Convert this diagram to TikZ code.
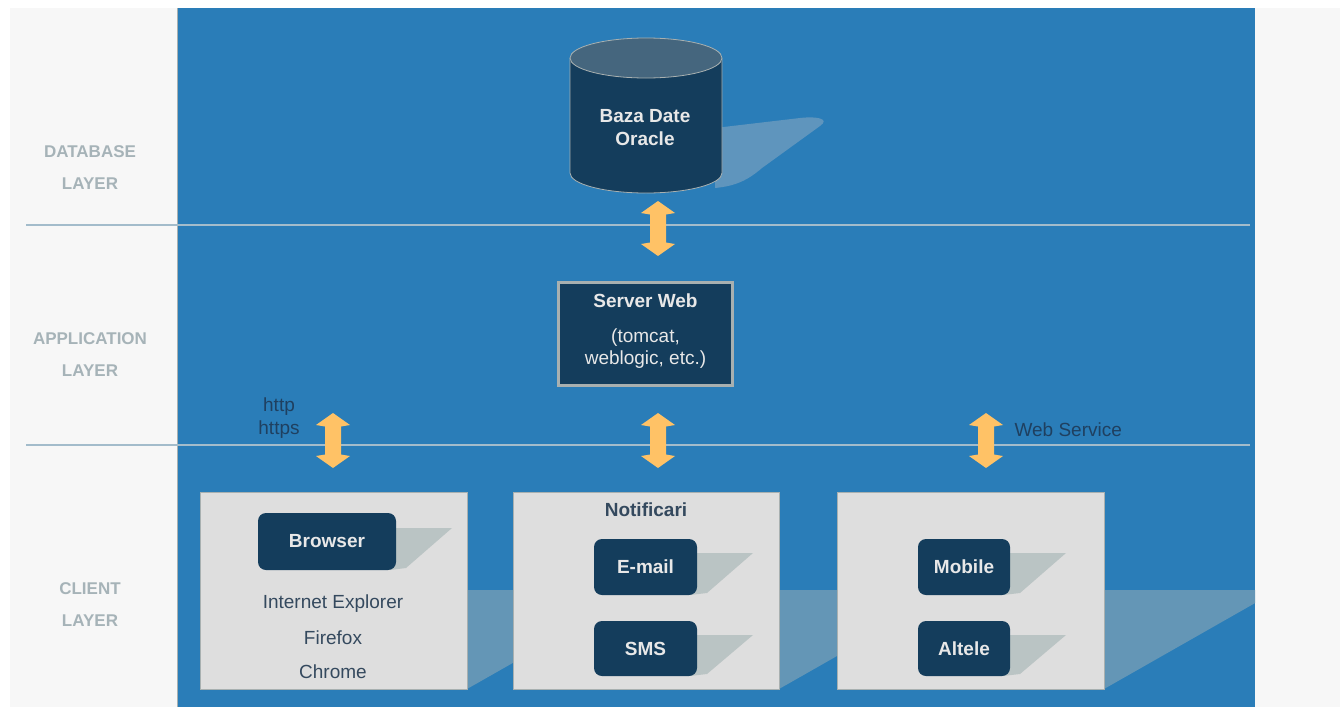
\documentclass[tikz,border=0pt]{standalone}
\usepackage{fontspec}
\setmainfont{Liberation Sans}
\definecolor{bgpanel}{HTML}{F7F7F7}
\definecolor{bluebg}{HTML}{2A7DB8}
\definecolor{sepline}{HTML}{A3BCCB}
\definecolor{navy}{HTML}{143D5C}
\definecolor{cyltop}{HTML}{45667E}
\definecolor{nodetxt}{HTML}{E8E8E8}
\definecolor{arrowcol}{HTML}{FFC266}
\definecolor{bigshadow}{HTML}{6496B6}
\definecolor{smallshadow}{HTML}{BAC4C4}
\definecolor{cylshadow}{HTML}{5F95BD}
\definecolor{boxfill}{HTML}{DEDEDE}
\definecolor{boxline}{HTML}{A8B0B0}
\definecolor{layertxt}{HTML}{A6B3B8}
\definecolor{bluetxt}{HTML}{1F4060}
\definecolor{darktxt}{HTML}{34495E}
\tikzset{
  darknode/.style={fill=navy, rounded corners=8pt, inner sep=0pt, text=nodetxt,
    font=\fontsize{19}{23}\selectfont\bfseries},
  clientbox/.style={fill=boxfill, draw=boxline, line width=1pt, inner sep=0pt},
  layerlbl/.style={align=center, text=layertxt, font=\fontsize{17}{32}\selectfont\bfseries},
  bluelbl/.style={text=bluetxt, font=\fontsize{19}{23}\selectfont, align=center},
  listtxt/.style={text=darktxt, font=\fontsize{19}{23}\selectfont},
  whitetxt/.style={text=nodetxt, align=center},
  dblarrow/.pic={\fill[arrowcol] (0,-27.5) -- (17,-15.5) -- (8,-14) -- (8,14) -- (17,15.5) -- (0,27.5)
      -- (-17,15.5) -- (-8,14) -- (-8,-14) -- (-17,-15.5) -- cycle;},
}
\begin{document}
\begin{tikzpicture}[x=1pt,y=-1pt]
\useasboundingbox (0,0) rectangle (1340,707);
\fill[white] (0,0) rectangle (1340,707);
\fill[bgpanel] (10,8) rectangle (1340,707);
\fill[bluebg] (177,8) rectangle (1255,707);
\draw[boxline, line width=0.6pt] (177,8) -- (177,707);
% separators
\draw[sepline, line width=1.2pt] (26,225) -- (1250,225);
\draw[sepline, line width=1.2pt] (26,445) -- (1250,445);
% layer labels
\node[layerlbl] (ldb) at (90,168) {DATABASE\\LAYER};
\node[layerlbl] (lapp) at (90,355) {APPLICATION\\LAYER};
\node[layerlbl] (lcli) at (90,605) {CLIENT\\LAYER};
% cylinder shadow
\fill[cylshadow] (715,128) -- (800,118) .. controls (818,116) and (830,119) .. (820,126)
  -- (762,168) .. controls (748,180) and (736,186) .. (715,188) -- cycle;
% cylinder
\fill[navy] (570,58) -- (570,173) arc[start angle=180, end angle=360, x radius=76pt, y radius=20pt] -- (722,58) -- cycle;
\draw[boxline, line width=0.8pt] (570,58) -- (570,173) arc[start angle=180, end angle=360, x radius=76pt, y radius=20pt] -- (722,58);
\fill[cyltop, draw=boxline, line width=0.8pt] (646,58) ellipse [x radius=76pt, y radius=20pt];
\node[whitetxt, font=\fontsize{19}{23}\selectfont\bfseries] (db) at (645,127.5) {Baza Date\\Oracle};
% server
\node[fill=navy, draw=boxline, line width=3pt, minimum width=174, minimum height=103, inner sep=0pt] (server) at (645.5,334) {};
\node[whitetxt, font=\fontsize{19}{23}\selectfont\bfseries] (srvtitle) at (645.5,301) {Server Web};
\node[whitetxt, font=\fontsize{19}{22}\selectfont] (srvsub) at (645.5,349) {(tomcat,\\weblogic, etc.)};
% arrows
\pic (a1) at (658,228.5) {dblarrow};
\pic (a2) at (333,440.5) {dblarrow};
\pic (a3) at (658,440.5) {dblarrow};
\pic (a4) at (986,440.5) {dblarrow};
\node[bluelbl] (http) at (279,418.5) {http\\https};
\node[bluelbl, anchor=west] (ws) at (1011,430) {Web Service};
% big shadows
\begin{scope}
\clip (177,8) rectangle (1255,707);
\fill[bigshadow] (467,590) -- (641,590) -- (467,689) -- cycle;
\fill[bigshadow] (779,590) -- (953,590) -- (779,689) -- cycle;
\fill[bigshadow] (1104,590) -- (1278,590) -- (1104,689) -- cycle;
\end{scope}
% client boxes
\node[clientbox, minimum width=267, minimum height=197] (c1) at (333.5,590.5) {};
\node[clientbox, minimum width=266, minimum height=197] (c2) at (646,590.5) {};
\node[clientbox, minimum width=267, minimum height=197] (c3) at (970.5,590.5) {};
% small shadows
\fill[smallshadow] (390,528) -- (452,528) -- (406,568) -- (390,570) -- cycle;
\fill[smallshadow] (690,553) -- (753,553) -- (707,593) -- (690,595) -- cycle;
\fill[smallshadow] (690,635) -- (753,635) -- (707,674) -- (690,676) -- cycle;
\fill[smallshadow] (1003,553) -- (1066,553) -- (1020,593) -- (1003,595) -- cycle;
\fill[smallshadow] (1003,635) -- (1066,635) -- (1020,674) -- (1003,676) -- cycle;
% small nodes
\node[darknode, minimum width=138, minimum height=57] (browser) at (327,541.5) {Browser};
\node[darknode, minimum width=103, minimum height=56] (email) at (645.5,567) {E-mail};
\node[darknode, minimum width=103, minimum height=55] (sms) at (645.5,648.5) {SMS};
\node[darknode, minimum width=92, minimum height=56] (mobile) at (964,567) {Mobile};
\node[darknode, minimum width=92, minimum height=55] (altele) at (964,648.5) {Altele};
% texts
\node[listtxt] (ie) at (333,604) {Internet Explorer};
\node[listtxt] (ff) at (333,638) {Firefox};
\node[listtxt] (chrome) at (333,672) {Chrome};
\node[text=darktxt, font=\fontsize{19}{23}\selectfont\bfseries] (notif) at (646,510) {Notificari};
\end{tikzpicture}
\end{document}
